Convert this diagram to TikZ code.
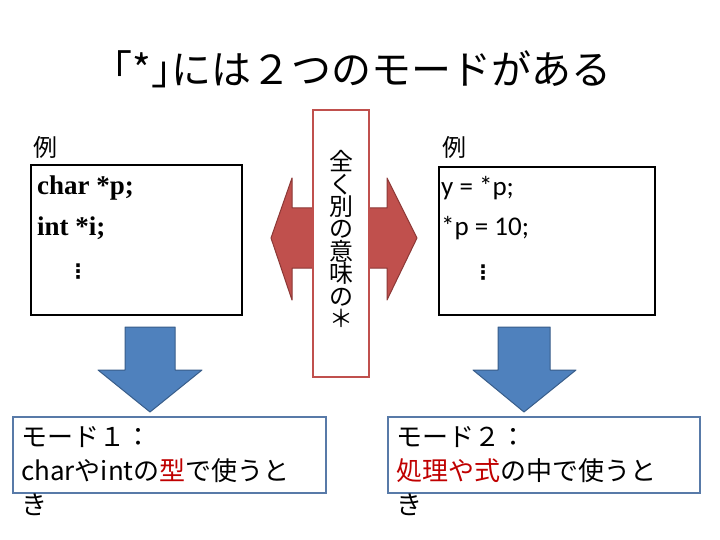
\documentclass[tikz,border=0pt]{standalone}
\usepackage{fontspec}
\setmainfont{Liberation Serif}
\newfontfamily\jpfont{Noto Sans CJK JP}
\newfontfamily\codefont{Carlito}
\newfontfamily\symfont{DejaVu Sans}
\usepackage{xcolor}
\definecolor{arrowred}{RGB}{192,80,77}
\definecolor{arrowredline}{RGB}{140,56,54}
\definecolor{arrowblue}{RGB}{79,129,189}
\definecolor{arrowblueline}{RGB}{56,93,138}
\definecolor{modeline}{RGB}{88,122,168}
\definecolor{keyred}{RGB}{192,0,0}
\usepackage{tikz}
\usetikzlibrary{positioning}

\tikzset{
    codebox/.style={draw=black, line width=2.5pt},
    midbox/.style={draw=arrowred, line width=1.5pt, fill=white},
    modebox/.style={draw=modeline, line width=2pt, fill=white},
    redarrow/.style={fill=arrowred, draw=arrowredline, line width=1pt, line join=round},
    bluearrow/.style={fill=arrowblue, draw=arrowblueline, line width=1pt, line join=round},
    reitext/.style={font=\jpfont\fontsize{24}{24}\selectfont, anchor=west, inner sep=0pt},
    ctext/.style={font=\bfseries\fontsize{27}{27}\selectfont, anchor=west, inner sep=0pt},
    ptext/.style={font=\codefont\fontsize{27}{27}\selectfont, anchor=west, inner sep=0pt},
    dotstext/.style={font=\symfont\bfseries\fontsize{20}{20}\selectfont, inner sep=0pt},
    modetext/.style={font=\jpfont\fontsize{26}{34}\selectfont, align=left, anchor=north west, inner sep=0pt}
}

\begin{document}
\begin{tikzpicture}[x=1pt, y=-1pt]
    \useasboundingbox[fill=white] (0,0) rectangle (720,540);

    % Title
    \node[font=\jpfont\fontsize{40}{40}\selectfont] (title) at (362,69) {｢*｣には２つのモードがある};

    % Left example
    \node[reitext] (reiL) at (33,147) {例};
    \draw[codebox] (31,165) rectangle (242,315);
    \node[ctext] (charP) at (37,188) {char *p;};
    \node[ctext] (intI) at (37,228) {int *i;};
    \node[dotstext] (dotsL) at (78,272) {⋮};

    % Right example
    \node[reitext] (reiR) at (442,147) {例};
    \draw[codebox] (439,167) rectangle (655,315);
    \node[ptext] (yP) at (441,188) {y = *p;};
    \node[ptext] (pTen) at (441,228) {*p = 10;};
    \node[dotstext] (dotsR) at (483,273) {⋮};

    % Red double arrow + middle label
    \draw[redarrow] (271,238) -- (292,178) -- (292,208) -- (387,208) -- (387,178)
        -- (417,238) -- (387,300) -- (387,268) -- (292,268) -- (292,300) -- cycle;
    \draw[midbox] (313,110) rectangle (369,377);
    \node[font=\jpfont\fontsize{24}{22.4}\selectfont, align=center, inner sep=0pt] (betsu) at (341,239)
        {全\\く\\別\\の\\意\\味\\の\\＊};

    % Blue arrows
    \draw[bluearrow] (125,327) -- (175,327) -- (175,370) -- (202,370) -- (150,412)
        -- (98,370) -- (125,370) -- cycle;
    \draw[bluearrow] (498,327) -- (550,327) -- (550,370) -- (576,370) -- (524,412)
        -- (473,370) -- (498,370) -- cycle;

    % Mode boxes
    \draw[modebox] (13,417) rectangle (326,493);
    \node[modetext] (mode1) at (21,426) {モード１：\\charやintの{\color{keyred}型}で使うと\\き};

    \draw[modebox] (388,417) rectangle (700,493);
    \node[modetext] (mode2) at (396,426) {モード２：\\{\color{keyred}処理や式}の中で使うと\\き};
\end{tikzpicture}
\end{document}
